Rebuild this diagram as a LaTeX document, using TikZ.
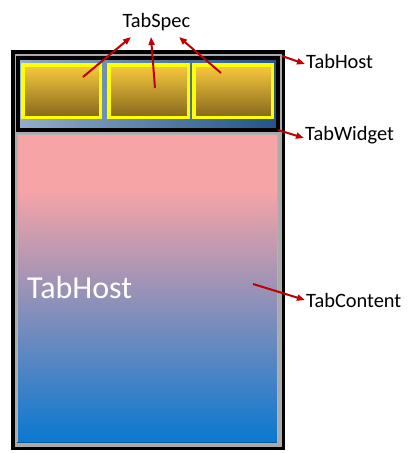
\documentclass[tikz,border=0pt]{standalone}
\usepackage{fontspec}
\setmainfont{Carlito}
\usetikzlibrary{arrows.meta,calc}
\definecolor{arrowred}{HTML}{C00000}
\definecolor{hostgrey}{HTML}{AAAAAA}
\definecolor{barleft}{HTML}{93AECB}
\definecolor{barright}{HTML}{22538A}
\definecolor{goldtop}{HTML}{FACB3E}
\definecolor{goldbot}{HTML}{86681C}
\definecolor{tabyellow}{HTML}{FFFF00}
\definecolor{cpink}{HTML}{F7A4A7}
\definecolor{cblue}{HTML}{0A78D0}
\definecolor{cedge}{HTML}{0A5A9E}
\pgfdeclareverticalshading{contentshade}{100bp}{color(0bp)=(cblue); color(25bp)=(cblue); color(66bp)=(cpink); color(100bp)=(cpink)}
\tikzset{
  hostbox/.style={rectangle, draw=black, line width=3.5pt, fill=hostgrey, inner sep=0pt},
  widgetbox/.style={rectangle, draw=black, line width=4pt, left color=barleft, right color=barright, inner sep=0pt},
  tabbox/.style={rectangle, draw=tabyellow, line width=3.5pt, top color=goldtop, bottom color=goldbot, inner sep=0pt, minimum height=52.5pt},
  contentbox/.style={rectangle, draw=black!30, line width=0.8pt, shading=contentshade, inner sep=0pt},
  lbl/.style={inner sep=0pt, font=\fontsize{20.4}{24}\selectfont, text=black},
  pointer/.style={draw=arrowred, line width=2pt, -{Triangle[length=8pt,width=6pt]}}
}
\begin{document}
\begin{tikzpicture}[x=1pt,y=-1pt]
\useasboundingbox (0,0) rectangle (416,453);
\node[hostbox, minimum width=270.5pt, minimum height=396.5pt] (host) at (148,250) {};
\node[widgetbox, minimum width=260pt, minimum height=72pt] (widget) at (148,94) {};
\node[tabbox, minimum width=77.5pt] (tab1) at (61.5,91) {};
\node[tabbox, minimum width=79.5pt] (tab2) at (148.5,91) {};
\node[tabbox, minimum width=78.5pt] (tab3) at (233,91) {};
\node[contentbox, minimum width=260pt, minimum height=308pt] (content) at (147,288) {};
\draw[cedge, line width=1.2pt] (content.south west) -- (content.south east);
\node[inner sep=0pt, anchor=base west, text=white, font=\fontsize{32}{38}\selectfont] (inner) at (27,298) {TabHost};
% labels
\node[lbl, anchor=base] (lspec) at (156.4,27.7) {TabSpec};
\node[lbl, anchor=base west] (lhost) at (306,68.7) {TabHost};
\node[lbl, anchor=base west] (lwidget) at (305,140.7) {TabWidget};
\node[lbl, anchor=base west] (lcontent) at (306,307.7) {TabContent};
% arrow anchors
\coordinate (s1) at (83,77);
\coordinate (s2) at (155,88);
\coordinate (s3) at (221,73);
\coordinate (s4) at (282,56);
\coordinate (s5) at (278,130);
\coordinate (s6) at (253,284);
\coordinate (e1) at (131,37);
\coordinate (e2) at (151,37);
\coordinate (e3) at (179,37);
\coordinate (e4) at (305,64);
\coordinate (e5) at (304,138);
\coordinate (e6) at (305,300);
\draw[pointer] (s1) -- (e1);
\draw[pointer] (s2) -- (e2);
\draw[pointer] (s3) -- (e3);
\draw[pointer] (s4) -- (e4);
\draw[pointer] (s5) -- (e5);
\draw[pointer] (s6) -- (e6);
\end{tikzpicture}
\end{document}
